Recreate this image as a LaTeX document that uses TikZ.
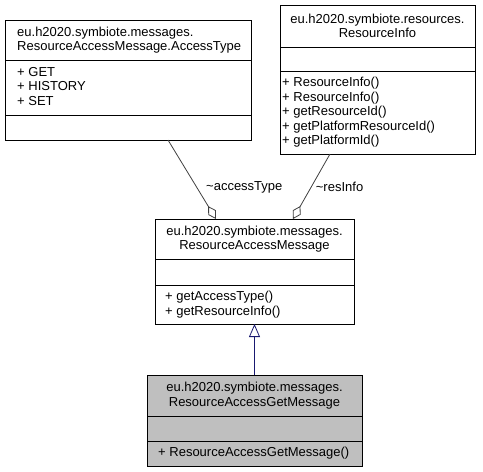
\documentclass[tikz,border=0pt]{standalone}
\usepackage{fontspec}
\setmainfont{Liberation Sans}
\usepackage{tikz}
\usetikzlibrary{positioning, arrows.meta}

\definecolor{edgegray}{RGB}{64,64,64}
\definecolor{inhblue}{RGB}{25,25,112}
\definecolor{curfill}{RGB}{191,191,191}

\begin{document}
\begin{tikzpicture}[x=1pt, y=-1pt,
  classbox/.style={draw=black, line width=1pt, inner sep=0pt, outer sep=0pt, fill=white},
  sepline/.style={draw=black, line width=1pt},
  txt/.style={inner sep=0pt, font=\fontsize{13}{14.5}\selectfont, text=black},
  aggr/.style={-{Diamond[open, length=15pt, width=9pt]}, draw=edgegray, line width=0.8pt},
  inherit/.style={-{Triangle[open, length=13pt, width=11pt]}, draw=inhblue, line width=0.8pt},
  role/.style={font=\fontsize{13}{14.5}\selectfont, inner sep=1pt}]

\useasboundingbox (0,0) rectangle (483,472);

% --- AccessType ---
\node[classbox, minimum width=246pt, minimum height=120pt] (accessType) at (128,80) {};
\draw[sepline] (accessType.west |- 0,60) -- (accessType.east |- 0,60);
\draw[sepline] (accessType.west |- 0,115) -- (accessType.east |- 0,115);
\node[txt, align=left, anchor=west] (accessTypeName) at (17,40)
  {eu.h2020.symbiote.messages.\\ResourceAccessMessage.AccessType};
\node[txt, align=left, anchor=west] (accessTypeAttr) at (17,86.5)
  {+ GET\\+ HISTORY\\+ SET};

% --- ResourceInfo ---
\node[classbox, minimum width=195pt, minimum height=149pt] (resInfo) at (377.5,79.5) {};
\draw[sepline] (resInfo.west |- 0,47) -- (resInfo.east |- 0,47);
\draw[sepline] (resInfo.west |- 0,71) -- (resInfo.east |- 0,71);
\node[txt, align=center] (resInfoName) at (377.5,26)
  {eu.h2020.symbiote.resources.\\ResourceInfo};
\node[txt, align=left, anchor=west] (resInfoOps) at (282,112.5)
  {+ ResourceInfo()\\+ ResourceInfo()\\+ getResourceId()\\+ getPlatformResourceId()\\+ getPlatformId()};

% --- ResourceAccessMessage ---
\node[classbox, minimum width=199pt, minimum height=105pt] (accessMsg) at (254.5,271.5) {};
\draw[sepline] (accessMsg.west |- 0,259) -- (accessMsg.east |- 0,259);
\draw[sepline] (accessMsg.west |- 0,285) -- (accessMsg.east |- 0,285);
\node[txt, align=center] (accessMsgName) at (254.5,239)
  {eu.h2020.symbiote.messages.\\ResourceAccessMessage};
\node[txt, align=left, anchor=west] (accessMsgOps) at (165,304.5)
  {+ getAccessType()\\+ getResourceInfo()};

% --- ResourceAccessGetMessage ---
\node[classbox, fill=curfill, minimum width=215pt, minimum height=91pt] (getMsg) at (254.5,420.5) {};
\draw[sepline] (getMsg.west |- 0,416) -- (getMsg.east |- 0,416);
\draw[sepline] (getMsg.west |- 0,441) -- (getMsg.east |- 0,441);
\node[txt, align=center] (getMsgName) at (254.5,395.5)
  {eu.h2020.symbiote.messages.\\ResourceAccessGetMessage};
\node[txt, align=left, anchor=west] (getMsgOps) at (158,453.5)
  {+ ResourceAccessGetMessage()};

% --- Relations ---
\draw[aggr] ([xshift=40pt]accessType.south) -- node[role, pos=0.6, right=8pt] {\textasciitilde accessType} ([xshift=-38.5pt]accessMsg.north);
\draw[aggr] ([xshift=-47.5pt]resInfo.south) -- node[role, pos=0.5, right=3pt] {\textasciitilde resInfo} ([xshift=38.5pt]accessMsg.north);
\draw[inherit] (getMsg) -- (accessMsg);

\end{tikzpicture}
\end{document}
